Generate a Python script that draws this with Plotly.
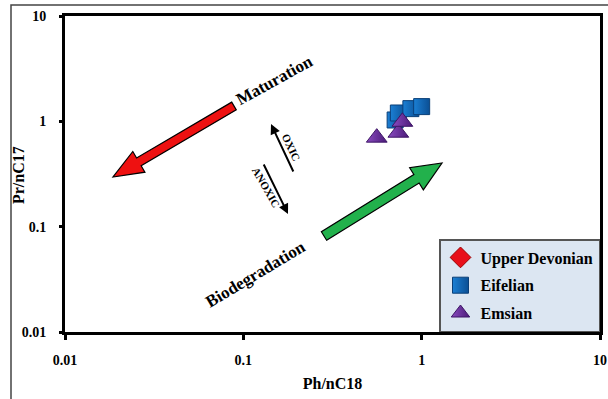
import math
import plotly.graph_objects as go

# ---- data ----
eifelian_x = [0.71, 0.74, 0.87, 1.00]
eifelian_y = [1.03, 1.20, 1.32, 1.38]
emsian_x = [0.56, 0.74, 0.78]
emsian_y = [0.70, 0.78, 0.99]
upper_devonian_x = [None]
upper_devonian_y = [None]
tick_vals = [0.01, 0.1, 1, 10]
tick_text = ["0.01", "0.1", "1", "10"]

W, H = 608, 399
L, R, T, B = 65, 8, 16, 67
PW, PH = W - L - R, H - T - B
FONT = "Liberation Serif, Times New Roman, serif"


def px(x):
    return (x - L) / PW


def py(y):
    return (H - B - y) / PH


def block_arrow(tail, tip, sw, hw, hl):
    x0, y0 = tail
    x1, y1 = tip
    dx, dy = x1 - x0, y1 - y0
    ln = math.hypot(dx, dy)
    ux, uy = dx / ln, dy / ln
    nx, ny = -uy, ux
    bx, by = x1 - ux * hl, y1 - uy * hl
    pts = [
        (x0 + nx * sw, y0 + ny * sw),
        (bx + nx * sw, by + ny * sw),
        (bx + nx * hw, by + ny * hw),
        (x1, y1),
        (bx - nx * hw, by - ny * hw),
        (bx - nx * sw, by - ny * sw),
        (x0 - nx * sw, y0 - ny * sw),
    ]
    return "M " + " L ".join(f"{px(a):.5f},{py(b):.5f}" for a, b in pts) + " Z"


fig = go.Figure()
fig.add_trace(go.Scatter(
    x=upper_devonian_x, y=upper_devonian_y, mode="markers", name="Upper Devonian",
    legendgroup="ud",
    marker=dict(symbol="diamond", size=18, color="#e8101a", line=dict(color="#9a0000", width=1)),
))
fig.add_trace(go.Scatter(
    x=eifelian_x, y=eifelian_y, mode="markers", name="Eifelian", legendgroup="ei",
    marker=dict(symbol="square", size=16, color="#1b7fd4",
                gradient=dict(type="horizontal", color="#0b4f94"),
                line=dict(color="#0a3f78", width=1)),
))
fig.add_trace(go.Scatter(
    x=emsian_x, y=emsian_y, mode="markers", name="Emsian", legendgroup="em",
    marker=dict(symbol="triangle-up", size=18, color="#8a4cc0",
                gradient=dict(type="horizontal", color="#4b1a78"),
                line=dict(color="#3d1566", width=1)),
))

shapes = [
    # outer frame
    dict(type="rect", xref="paper", yref="paper", x0=px(11), y0=py(5), x1=px(640), y1=py(430),
         line=dict(color="#444444", width=1.5), fillcolor="rgba(0,0,0,0)", layer="below"),
    # maturation arrow
    dict(type="path", xref="paper", yref="paper",
         path=block_arrow((234, 106), (113, 177), 4.5, 12, 30),
         fillcolor="#ee1111", line=dict(color="#000000", width=1.2)),
    # biodegradation arrow
    dict(type="path", xref="paper", yref="paper",
         path=block_arrow((324, 236), (442, 163), 5, 13, 30),
         fillcolor="#22b14c", line=dict(color="#000000", width=1.2)),
]


def label(text, x, y, angle, size):
    return dict(text=text, x=px(x), y=py(y), xref="paper", yref="paper", showarrow=False,
                xanchor="center", yanchor="middle", textangle=angle,
                font=dict(family=FONT, size=size, color="black", weight="bold"))


annotations = [
    label("Maturation", 274, 80, -29, 17),
    label("Biodegradation", 255, 274, -31, 17),
    label("OXIC", 291, 147, 65, 11),
    label("ANOXIC", 266, 187, 60, 11),
    label("Pr/nC17", 18, 175, -90, 16),
    # OXIC arrow (points up-left)
    dict(text="", x=px(271), y=py(124), xref="paper", yref="paper", showarrow=True,
         ax=294 - 271, ay=173 - 124, arrowhead=2, arrowsize=1, arrowwidth=2, arrowcolor="black"),
    # ANOXIC arrow (points down-right)
    dict(text="", x=px(288), y=py(214), xref="paper", yref="paper", showarrow=True,
         ax=263 - 288, ay=163 - 214, arrowhead=2, arrowsize=1, arrowwidth=2, arrowcolor="black"),
]

axis_common = dict(
    type="log", range=[-2, 1], tickvals=tick_vals, ticktext=tick_text,
    showgrid=False, zeroline=False, showline=True, linecolor="black", linewidth=3,
    mirror=True, ticks="outside", tickcolor="black", tickwidth=3,
    tickfont=dict(family=FONT, size=14, color="black", weight="bold"),
)

fig.update_xaxes(**axis_common, ticklen=5, ticklabelstandoff=8,
                 title=dict(text="Ph/nC18", standoff=12,
                            font=dict(family=FONT, size=16, color="black", weight="bold")))
fig.update_yaxes(**axis_common, ticklen=3, ticklabelstandoff=10)

fig.update_layout(
    width=W, height=H, margin=dict(l=L, r=R, t=T, b=B, autoexpand=False),
    paper_bgcolor="white", plot_bgcolor="white",
    shapes=shapes, annotations=annotations,
    legend=dict(x=1, y=0, xanchor="right", yanchor="bottom",
                bgcolor="#dce6f2", bordercolor="#555555", borderwidth=1.5,
                font=dict(family=FONT, size=16, color="black", weight="bold"),
                itemwidth=30, tracegroupgap=4),
    showlegend=True,
)

fig.write_html("out.html", config={"displayModeBar": False},
               post_script="document.body.style.margin='0';document.body.style.padding='0';")
